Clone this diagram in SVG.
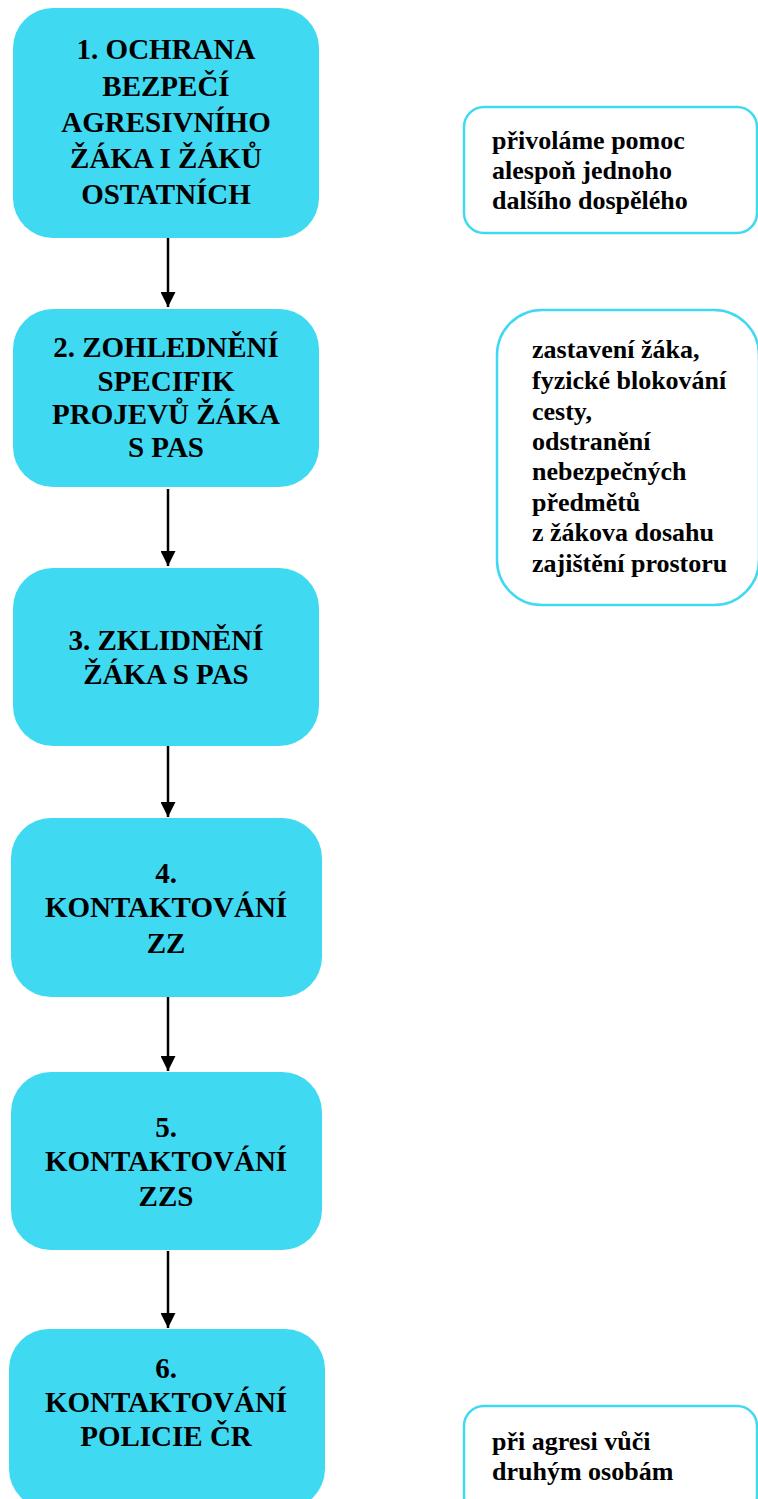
<svg xmlns="http://www.w3.org/2000/svg" width="758" height="1499" viewBox="0 0 758 1499">
<style>
.step{fill:#40d9f2;}
.side{fill:#ffffff;stroke:#40d9f2;stroke-width:2.5;}
.t{font-family:'Liberation Serif','Times New Roman',serif;font-weight:bold;fill:#000;}
.main{font-size:29px;text-anchor:middle;}
.note{font-size:26px;}
.conn{stroke:#000;stroke-width:2.5;fill:none;}
</style>
<defs>
<marker id="ah" markerWidth="6" markerHeight="6" refX="6" refY="3" orient="auto" markerUnits="strokeWidth">
<path d="M0,0 L6,3 L0,6 Z" fill="#000"/>
</marker>
</defs>
<rect width="758" height="1499" fill="#fff"/>
<g id="connectors">
<line class="conn" x1="168" y1="237" x2="168" y2="307" marker-end="url(#ah)"/>
<line class="conn" x1="168" y1="489" x2="168" y2="566" marker-end="url(#ah)"/>
<line class="conn" x1="168" y1="746" x2="168" y2="817" marker-end="url(#ah)"/>
<line class="conn" x1="168" y1="997" x2="168" y2="1071" marker-end="url(#ah)"/>
<line class="conn" x1="168" y1="1251" x2="168" y2="1328" marker-end="url(#ah)"/>
</g>
<g id="step1">
<rect class="step" x="13" y="8" width="306" height="230" rx="40" ry="40"/>
<text class="t main"><tspan x="166" y="59">1. OCHRANA</tspan><tspan x="166" y="96">BEZPEČÍ</tspan><tspan x="166" y="132">AGRESIVNÍHO</tspan><tspan x="166" y="168">ŽÁKA I ŽÁKŮ</tspan><tspan x="166" y="204">OSTATNÍCH</tspan></text>
</g>
<g id="step2">
<rect class="step" x="13" y="309" width="306" height="178" rx="40" ry="40"/>
<text class="t main"><tspan x="166" y="357">2. ZOHLEDNĚNÍ</tspan><tspan x="166" y="391">SPECIFIK</tspan><tspan x="166" y="424">PROJEVŮ ŽÁKA</tspan><tspan x="166" y="457">S PAS</tspan></text>
</g>
<g id="step3">
<rect class="step" x="13" y="568" width="306" height="178" rx="40" ry="40"/>
<text class="t main"><tspan x="166" y="650">3. ZKLIDNĚNÍ</tspan><tspan x="166" y="684">ŽÁKA S PAS</tspan></text>
</g>
<g id="step4">
<rect class="step" x="11" y="818" width="311" height="179" rx="40" ry="40"/>
<text class="t main"><tspan x="166" y="883">4.</tspan><tspan x="166" y="917">KONTAKTOVÁNÍ</tspan><tspan x="166" y="953">ZZ</tspan></text>
</g>
<g id="step5">
<rect class="step" x="11" y="1072" width="311" height="178" rx="40" ry="40"/>
<text class="t main"><tspan x="166" y="1137">5.</tspan><tspan x="166" y="1171">KONTAKTOVÁNÍ</tspan><tspan x="166" y="1206">ZZS</tspan></text>
</g>
<g id="step6">
<rect class="step" x="9" y="1329" width="316" height="180" rx="40" ry="40"/>
<text class="t main"><tspan x="166" y="1378">6.</tspan><tspan x="166" y="1412">KONTAKTOVÁNÍ</tspan><tspan x="166" y="1446">POLICIE ČR</tspan></text>
</g>
<g id="note1">
<rect class="side" x="464" y="107" width="293" height="126" rx="20" ry="20"/>
<text class="t note"><tspan x="492" y="149">přivoláme pomoc</tspan><tspan x="492" y="179">alespoň jednoho</tspan><tspan x="492" y="209">dalšího dospělého</tspan></text>
</g>
<g id="note2">
<rect class="side" x="497" y="310" width="262" height="295" rx="45" ry="45"/>
<text class="t note"><tspan x="532" y="358">zastavení žáka,</tspan><tspan x="532" y="389">fyzické blokování</tspan><tspan x="532" y="420">cesty,</tspan><tspan x="532" y="450">odstranění</tspan><tspan x="532" y="480">nebezpečných</tspan><tspan x="532" y="511">předmětů</tspan><tspan x="532" y="541">z žákova dosahu</tspan><tspan x="532" y="572">zajištění prostoru</tspan></text>
</g>
<g id="note3">
<rect class="side" x="464" y="1406" width="293" height="110" rx="20" ry="20"/>
<text class="t note"><tspan x="492" y="1450">při agresi vůči</tspan><tspan x="492" y="1480">druhým osobám</tspan></text>
</g>
</svg>
